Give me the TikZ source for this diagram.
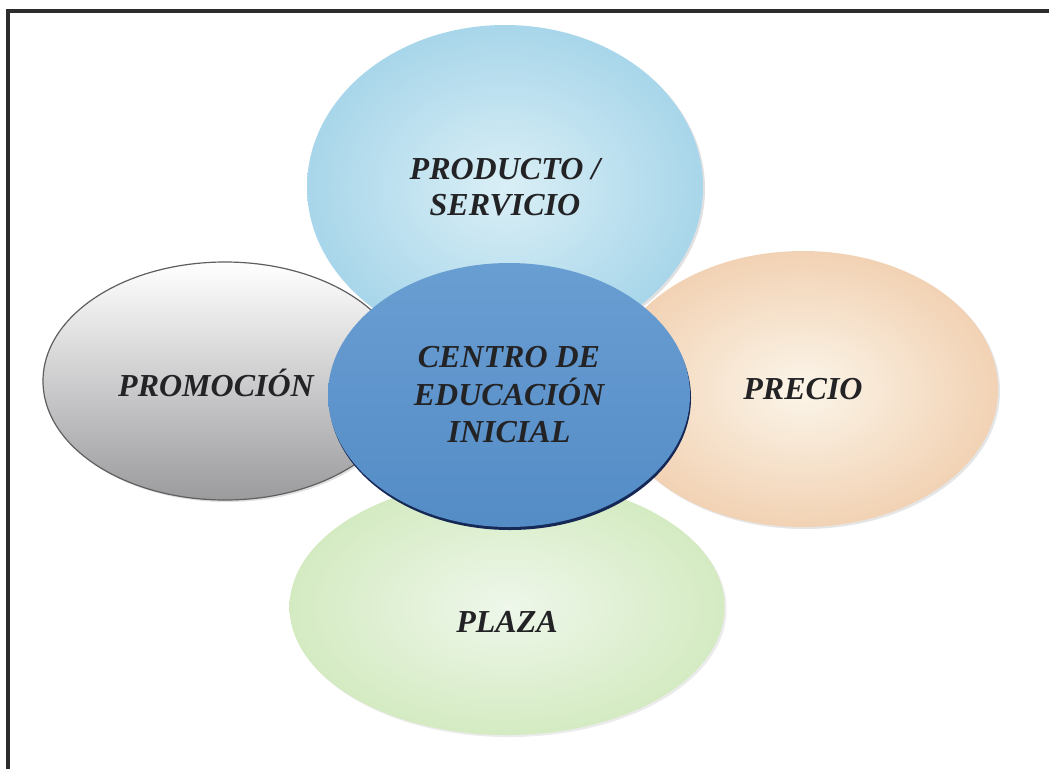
\documentclass[tikz,border=0pt]{standalone}
\usepackage{fontspec}
\setmainfont{Liberation Serif}
\usetikzlibrary{shapes.geometric,shadows}
\definecolor{framegray}{RGB}{45,45,45}
\definecolor{txt}{RGB}{35,35,38}
\definecolor{blueOut}{RGB}{168,214,234}
\definecolor{blueIn}{RGB}{218,239,246}
\definecolor{peachOut}{RGB}{242,210,180}
\definecolor{peachIn}{RGB}{251,245,233}
\definecolor{greenOut}{RGB}{212,235,194}
\definecolor{greenIn}{RGB}{238,247,234}
\definecolor{grayEdge}{RGB}{95,95,95}
\definecolor{grayBot}{RGB}{155,155,158}
\definecolor{grayMid}{RGB}{226,226,228}
\definecolor{cTop}{RGB}{105,158,210}
\definecolor{cMid}{RGB}{45,104,170}
\definecolor{cBot}{RGB}{84,140,198}
\definecolor{cRim}{RGB}{22,40,85}
\begin{document}
\begin{tikzpicture}[x=1pt,y=-1pt,
  bubfont/.style={font=\fontsize{32}{36}\selectfont\bfseries\itshape, text=txt},
  bubble/.style={ellipse, inner sep=0pt, align=center, bubfont},
  toplabel/.style={bubfont, inner sep=0pt},
  topbub/.style={bubble, inner color=blueIn, outer color=blueOut,
    general shadow={shadow xshift=2pt, shadow yshift=-2pt, fill=black!12}},
  leftbub/.style={bubble, top color=white, middle color=grayMid, bottom color=grayBot,
    draw=grayEdge, line width=1.2pt,
    general shadow={shadow xshift=2pt, shadow yshift=-2pt, fill=black!12}},
  rightbub/.style={bubble, inner color=peachIn, outer color=peachOut,
    general shadow={shadow xshift=2pt, shadow yshift=-2pt, fill=black!10}},
  botbub/.style={bubble, inner color=greenIn, outer color=greenOut,
    general shadow={shadow xshift=2pt, shadow yshift=-2pt, fill=black!8}},
  centbub/.style={bubble, top color=cTop, middle color=cMid, bottom color=cBot,
    font=\fontsize{32}{37.5}\selectfont\bfseries\itshape,
    general shadow={shadow xshift=1pt, shadow yshift=-3pt, fill=cRim}},
  framestyle/.style={draw=framegray, line width=4.5pt}
]
\useasboundingbox (0,0) rectangle (1049,769);
\fill[white] (0,0) rectangle (1049,769);
% frame
\coordinate (fbot) at (8,769);
\coordinate (fright) at (1049,11);
\draw[framestyle] (fbot) |- (fright);
% bubbles
\node[rightbub, minimum width=390pt, minimum height=276pt] (precio) at (803,389) {PRECIO};
\node[leftbub, minimum width=364pt, minimum height=238pt,
  label={[toplabel, xshift=-9pt, yshift=-2pt]center:PROMOCIÓN}] (promo) at (225,381) {};
\node[botbub, minimum width=435pt, minimum height=256pt,
  label={[toplabel, yshift=-15pt]center:PLAZA}] (plaza) at (507,607) {};
\node[topbub, minimum width=396pt, minimum height=324pt] (prod) at (505,187) {PRODUCTO /\\SERVICIO};
\node[centbub, minimum width=362pt, minimum height=264pt] (centro) at (509,395) {CENTRO DE\\EDUCACIÓN\\INICIAL};
\end{tikzpicture}
\end{document}
